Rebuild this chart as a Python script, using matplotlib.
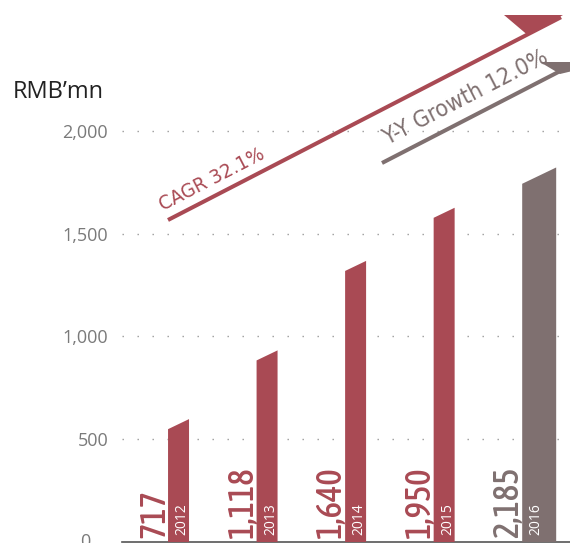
import matplotlib
matplotlib.use("Agg")
import matplotlib.pyplot as plt
from matplotlib import font_manager as fm
from matplotlib.transforms import offset_copy
from matplotlib.patches import Polygon

RED = "#a94a54"
GREY = "#7f7070"

years = ["2012", "2013", "2014", "2015", "2016"]
revenue = [717, 1118, 1640, 1950, 2185]
value_labels = ["717", "1,118", "1,640", "1,950", "2,185"]
yticks = [0, 500, 1000, 1500, 2000]
ytick_labels = ["0", "500", "1,000", "1,500", "2,000"]
bar_colors = [RED, RED, RED, RED, GREY]
bar_widths = [0.237, 0.237, 0.237, 0.237, 0.384]

SANS = ["Open Sans", "DejaVu Sans"]


def weight_num(w):
    if isinstance(w, int):
        return w
    return {"light": 300, "normal": 400, "regular": 400, "medium": 500, "semibold": 600,
            "demibold": 600, "bold": 700, "heavy": 800, "black": 900}.get(str(w).lower(), 400)


def narrow_font(min_w, max_w):
    found = [f for f in fm.fontManager.ttflist
             if ("Narrow" in f.name or "Condensed" in f.name or "condensed" in str(f.stretch))
             and f.style == "normal" and min_w <= weight_num(f.weight) <= max_w]
    if found:
        found.sort(key=lambda f: weight_num(f.weight))
        return fm.FontProperties(fname=found[0].fname)
    return fm.FontProperties(family="DejaVu Sans")


NARROW = narrow_font(350, 450)
NARROW_BOLD = narrow_font(500, 750)

W, H = 570, 543
fig = plt.figure(figsize=(W / 100, H / 100), dpi=100)
renderer = fig.canvas.get_renderer()


def fit_size(text, fp, length_px):
    t = fig.text(0, 0, text, fontproperties=fp, fontsize=10)
    w = t.get_window_extent(renderer).width
    t.remove()
    return 10 * length_px / w


# main axis (value scale shown on the left)
ax = fig.add_axes([122 / W, 1 / H, 448 / W, 542 / H])
ax.set_xlim(-0.52, 4.54)
ax.set_ylim(0, 2637)
ax.set_yticks(yticks[1:])
ax.set_yticklabels(ytick_labels[1:], family=SANS, fontsize=13, color="#7a7a7a")
ax.tick_params(axis="y", length=0, pad=10)
ax.set_xticks([])
ax.yaxis.grid(True, color="#9a9a9a", lw=1.0, ls=(0, (1.0, 9.8)))
for s in ("top", "right", "left"):
    ax.spines[s].set_visible(False)
ax.spines["bottom"].set_color("#555555")
ax.spines["bottom"].set_linewidth(1.2)
ax.spines["bottom"].set_clip_on(False)
ax.text(-0.07, 0, ytick_labels[0], transform=ax.get_yaxis_transform(), ha="right", va="center",
        family=SANS, fontsize=13, color="#7a7a7a", clip_on=False)
fig.text(13 / W, 1 - 92 / H, "RMB\u2019mn", family=SANS, fontsize=17, color="#222222",
         ha="left", va="center")

# bars drawn on their own (compressed) scale
bx = ax.twinx()
bx.set_ylim(0, 3162)
bx.axis("off")
px_x = 88.5                 # pixels per category step
y_per_px = 3162 / 542
SLANT = 0.48                # drop of the slanted top, px per px
val_size = fit_size("1,640", NARROW_BOLD, 71)
for i, (v, c, w) in enumerate(zip(revenue, bar_colors, bar_widths)):
    drop = SLANT * w * px_x * y_per_px
    bx.add_patch(Polygon([(i, 0), (i + w, 0), (i + w, v), (i, v - drop)],
                         closed=True, fc=c, ec="none", zorder=2))
    t_val = offset_copy(bx.transData, fig=fig, x=-4, y=4, units="dots")
    bx.text(i, 0, value_labels[i], transform=t_val, rotation=90, rotation_mode="anchor",
            ha="left", va="baseline", color=c, zorder=3, fontproperties=NARROW_BOLD,
            fontsize=val_size)
    t_yr = offset_copy(bx.transData, fig=fig, x=17.5, y=7, units="dots")
    bx.text(i, 0, years[i], transform=t_yr, rotation=90, rotation_mode="anchor",
            ha="left", va="baseline", family=SANS, fontsize=10, color="white", zorder=3)

# growth arrows (pixel overlay)
ov = fig.add_axes([0, 0, 1, 1])
ov.set_xlim(0, W); ov.set_ylim(H, 0); ov.axis("off")
ov.plot([168, 561], [220, 17.2], color=RED, lw=2.9, solid_capstyle="butt")
ov.add_patch(Polygon([(504, 15), (563, 15), (527, 34.5)], closed=True, fc=RED, ec="none"))
ov.plot([382, 600], [163, 50.5], color=GREY, lw=2.9, solid_capstyle="butt")
ov.add_patch(Polygon([(540, 62), (610, 62), (560, 74)], closed=True, fc=GREY, ec="none"))
ov.text(163, 211, "CAGR 32.1%", rotation=27.3, rotation_mode="anchor", ha="left",
        va="baseline", color=RED, fontproperties=NARROW,
        fontsize=fit_size("CAGR 32.1%", NARROW, 116))
ov.text(388, 145, "Y-Y Growth 12.0%", rotation=27.3, rotation_mode="anchor", ha="left",
        va="baseline", color=GREY, fontproperties=NARROW,
        fontsize=fit_size("Y-Y Growth 12.0%", NARROW, 182))

fig.savefig("out.png", dpi=100)
